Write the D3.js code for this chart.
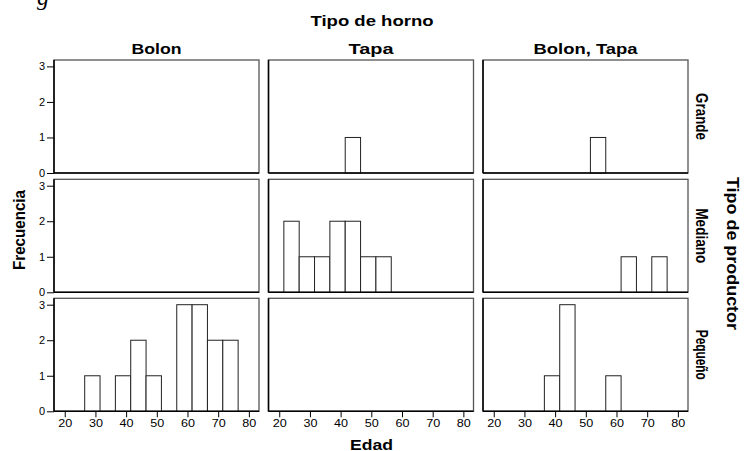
<!DOCTYPE html>
<html>
<head>
<meta charset="utf-8">
<script src="https://cdn.jsdelivr.net/npm/d3@7"></script>
<style>
  body { margin: 0; background: #fff; }
  svg { display: block; font-family: "Liberation Sans", Arial, sans-serif; }
</style>
</head>
<body>
<svg id="chart" width="748" height="451"></svg>
<script>
// columnas y filas del panel
const horno = ["Bolon", "Tapa", "Bolon, Tapa"];
const productor = ["Grande", "Mediano", "Pequeño"];

// intervalos de edad (inicio de cada barra, ancho 5)
const binStarts = [16.5, 21.5, 26.5, 31.5, 36.5, 41.5, 46.5, 51.5, 56.5, 61.5, 66.5, 71.5, 76.5];
const binWidth = 5;
const xTicks = [20, 30, 40, 50, 60, 70, 80];
const yTicks = [0, 1, 2, 3];

// frecuencias por panel: fila (productor) x columna (horno)
const grandeBolon     = [0, 0, 0, 0, 0, 0, 0, 0, 0, 0, 0, 0, 0];
const grandeTapa      = [0, 0, 0, 0, 0, 1, 0, 0, 0, 0, 0, 0, 0];
const grandeAmbos     = [0, 0, 0, 0, 0, 0, 0, 1, 0, 0, 0, 0, 0];
const medianoBolon    = [0, 0, 0, 0, 0, 0, 0, 0, 0, 0, 0, 0, 0];
const medianoTapa     = [0, 2, 1, 1, 2, 2, 1, 1, 0, 0, 0, 0, 0];
const medianoAmbos    = [0, 0, 0, 0, 0, 0, 0, 0, 0, 1, 0, 1, 0];
const pequenoBolon    = [0, 0, 1, 0, 1, 2, 1, 0, 3, 3, 2, 2, 0];
const pequenoTapa     = [0, 0, 0, 0, 0, 0, 0, 0, 0, 0, 0, 0, 0];
const pequenoAmbos    = [0, 0, 0, 0, 1, 3, 0, 0, 1, 0, 0, 0, 0];

const panels = [
  [grandeBolon, grandeTapa, grandeAmbos],
  [medianoBolon, medianoTapa, medianoAmbos],
  [pequenoBolon, pequenoTapa, pequenoAmbos],
];

const svg = d3.select("#chart");

const panelW = 205, panelH = 113;
const colX = [54, 268.5, 483];
const rowY = [60, 179.3, 298.3];

const x = d3.scaleLinear().domain([16.5, 83.3]).range([0, panelW]);
const y = d3.scaleLinear().domain([0, 3.18]).range([panelH, 0]);

// etiqueta con ancho fijo (el original se ve estirado)
function label(sel, txt, w, size) {
  return sel.append("text")
    .attr("text-anchor", "middle")
    .attr("font-weight", "bold")
    .attr("font-size", size)
    .attr("textLength", w)
    .attr("lengthAdjust", "spacingAndGlyphs")
    .text(txt);
}

// título recortado arriba
svg.append("text")
  .attr("x", 37).attr("y", 5)
  .attr("font-family", "Liberation Serif, serif")
  .attr("font-style", "italic")
  .attr("font-size", 24)
  .text("g");

label(svg, "Tipo de horno", 123, 15).attr("x", 372).attr("y", 25.5);

const colW = [50, 45, 104];
horno.forEach((h, c) => {
  label(svg, h, colW[c], 15)
    .attr("x", colX[c] + panelW / 2).attr("y", 53.5);
});

const rowW = [47, 55, 50];
productor.forEach((p, r) => {
  label(svg, p, rowW[r], 17)
    .attr("transform", `translate(696,${rowY[r] + panelH / 2}) rotate(90)`);
});

label(svg, "Tipo de productor", 153, 16)
  .attr("transform", "translate(726.5,253.5) rotate(90)");

label(svg, "Frecuencia", 80, 17)
  .attr("transform", "translate(25,230) rotate(-90)");

label(svg, "Edad", 43, 15).attr("x", 371.5).attr("y", 449.5);

panels.forEach((row, r) => {
  row.forEach((counts, c) => {
    const g = svg.append("g")
      .attr("transform", `translate(${colX[c]},${rowY[r]})`);

    // marco superior/derecho gris
    g.append("rect")
      .attr("x", 0).attr("y", 0)
      .attr("width", panelW).attr("height", panelH)
      .attr("fill", "none")
      .attr("stroke", "#555")
      .attr("stroke-width", 1.3);

    const bins = binStarts
      .map((s, i) => ({ start: s, n: counts[i] }))
      .filter(d => d.n > 0);

    g.selectAll("rect.bar")
      .data(bins)
      .join("rect")
      .attr("class", "bar")
      .attr("x", d => x(d.start))
      .attr("y", d => y(d.n))
      .attr("width", d => x(d.start + binWidth) - x(d.start))
      .attr("height", d => y(0) - y(d.n))
      .attr("fill", "#fff")
      .attr("stroke", "#222")
      .attr("stroke-width", 1);

    // ejes
    g.append("line")
      .attr("x1", 0).attr("x2", 0).attr("y1", 0).attr("y2", panelH)
      .attr("stroke", "#000").attr("stroke-width", 1.5);
    g.append("line")
      .attr("x1", 0).attr("x2", panelW).attr("y1", panelH).attr("y2", panelH)
      .attr("stroke", "#000").attr("stroke-width", 1.5);

    if (c === 0) {
      const ya = g.append("g")
        .call(d3.axisLeft(y).tickValues(yTicks).tickFormat(d3.format("d"))
          .tickSize(7).tickSizeOuter(0).tickPadding(2));
      ya.select(".domain").remove();
      ya.selectAll("text").attr("font-size", 11).attr("font-family", "Liberation Sans, Arial, sans-serif");
      ya.selectAll("line").attr("stroke", "#000");
    }
    if (r === 2) {
      const xa = g.append("g")
        .attr("transform", `translate(0,${panelH})`)
        .call(d3.axisBottom(x).tickValues(xTicks).tickSize(6).tickSizeOuter(0).tickPadding(2));
      xa.select(".domain").remove();
      xa.selectAll("text")
        .attr("font-size", 11.5)
        .attr("font-family", "Liberation Sans, Arial, sans-serif")
        .attr("textLength", 14)
        .attr("lengthAdjust", "spacingAndGlyphs");
      xa.selectAll("line").attr("stroke", "#000");
    }
  });
});
</script>
</body>
</html>
